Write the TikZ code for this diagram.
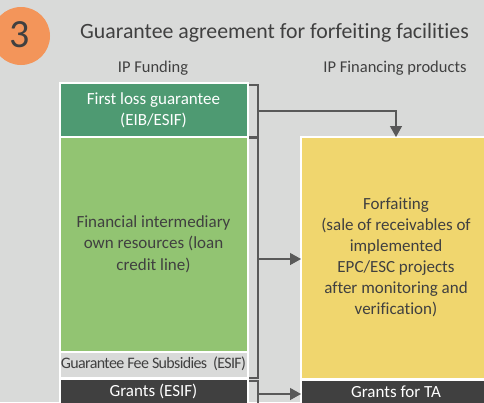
\documentclass[tikz,border=0pt]{standalone}
\usepackage{fontspec}
\setmainfont{Carlito}[Ligatures={NoCommon}]
\usetikzlibrary{arrows.meta,positioning}
\definecolor{bg}{HTML}{D9DAD9}
\definecolor{orng}{HTML}{F3955A}
\definecolor{dgreen}{HTML}{4E9A72}
\definecolor{lgreen}{HTML}{92C472}
\definecolor{yel}{HTML}{F0D66E}
\definecolor{dark}{HTML}{404040}
\definecolor{txt}{HTML}{404040}
\definecolor{ln}{HTML}{595959}
\tikzset{
  box/.style={draw=white, line width=1.3pt, inner sep=0pt, outer sep=0pt, anchor=north west, align=center},
  body/.style={align=center, font=\fontsize{17}{21.3}\selectfont},
  brk/.style={draw=ln, line width=1.3pt},
  arr/.style={brk, -{Triangle[length=11pt,width=12pt]}},
}
\begin{document}
\begin{tikzpicture}[x=1pt,y=-1pt]
\useasboundingbox (0,0) rectangle (484,402);
\fill[bg] (0,0) rectangle (484,402);
% badge
\node[circle, fill=orng, minimum size=58pt, inner sep=0pt] (badge) at (21,36) {};
\node[text=txt, font=\fontsize{40}{40}\selectfont] (num) at (20,34.5) {3};
% title
\node[anchor=west, text=txt, font=\fontsize{21.8}{26}\selectfont, inner sep=0pt] (title) at (80,33) {Guarantee agreement for forfeiting facilities};
\node[text=txt, font=\fontsize{16.5}{20}\selectfont, inner sep=0pt] (h1) at (153,68) {IP Funding};
\node[text=txt, font=\fontsize{16.5}{20}\selectfont, inner sep=0pt] (h2) at (395,68) {IP Financing products};
% left column
\node[box, fill=dgreen, minimum width=188pt, minimum height=54pt] (fl) at (60,83) {};
\node[body, text=white] (flt) at (153.5,110) {First loss guarantee\\(EIB/ESIF)};
\node[box, fill=lgreen, minimum width=188pt, minimum height=215pt] (fi) at (60,137) {};
\node[body, text=txt] (fit) at (153.5,244) {Financial intermediary\\own resources (loan\\credit line)};
\node[box, fill=bg, minimum width=188pt, minimum height=26pt] (gfs) at (60,352) {};
\node[text=txt, font=\fontsize{16}{18}\selectfont, inner sep=0pt] (gfst) at (153.5,364) {\addfontfeature{LetterSpace=-4}Guarantee Fee Subsidies\ \ (ESIF)};
\node[box, fill=dark, minimum width=188pt, minimum height=32pt] (gr) at (60,379) {};
\node[body, text=white] (grt) at (153.5,391.5) {Grants (ESIF)};
% right column
\node[box, fill=yel, minimum width=190pt, minimum height=242pt] (fo) at (301,137) {};
\node[body, text=txt, font=\fontsize{17}{21}\selectfont] (fot) at (396,257.5) {Forfaiting\\(sale of receivables of\\implemented\\EPC/ESC projects\\after monitoring and\\verification)};
\node[box, fill=dark, minimum width=190pt, minimum height=32pt] (ta) at (301,380) {};
\node[body, text=white] (tat) at (396,391.5) {Grants for TA};
% brackets
\coordinate (m1) at (258,111);
\coordinate (m2) at (258,259);
\coordinate (m3) at (258,394);
\draw[brk] (249,85) -- (258,85) -- (258,136.5) -- (249,136.5);
\draw[brk] (249,138) -- (258,138) -- (258,378) -- (249,378);
\draw[brk] (249,381) -- (258,381) -- (258,410);
\draw[arr] (m1) -| (fo.north);
\draw[arr] (m2) -- (m2 -| fo.west);
\draw[arr] (m3) -- (m3 -| ta.west);
\end{tikzpicture}
\end{document}
